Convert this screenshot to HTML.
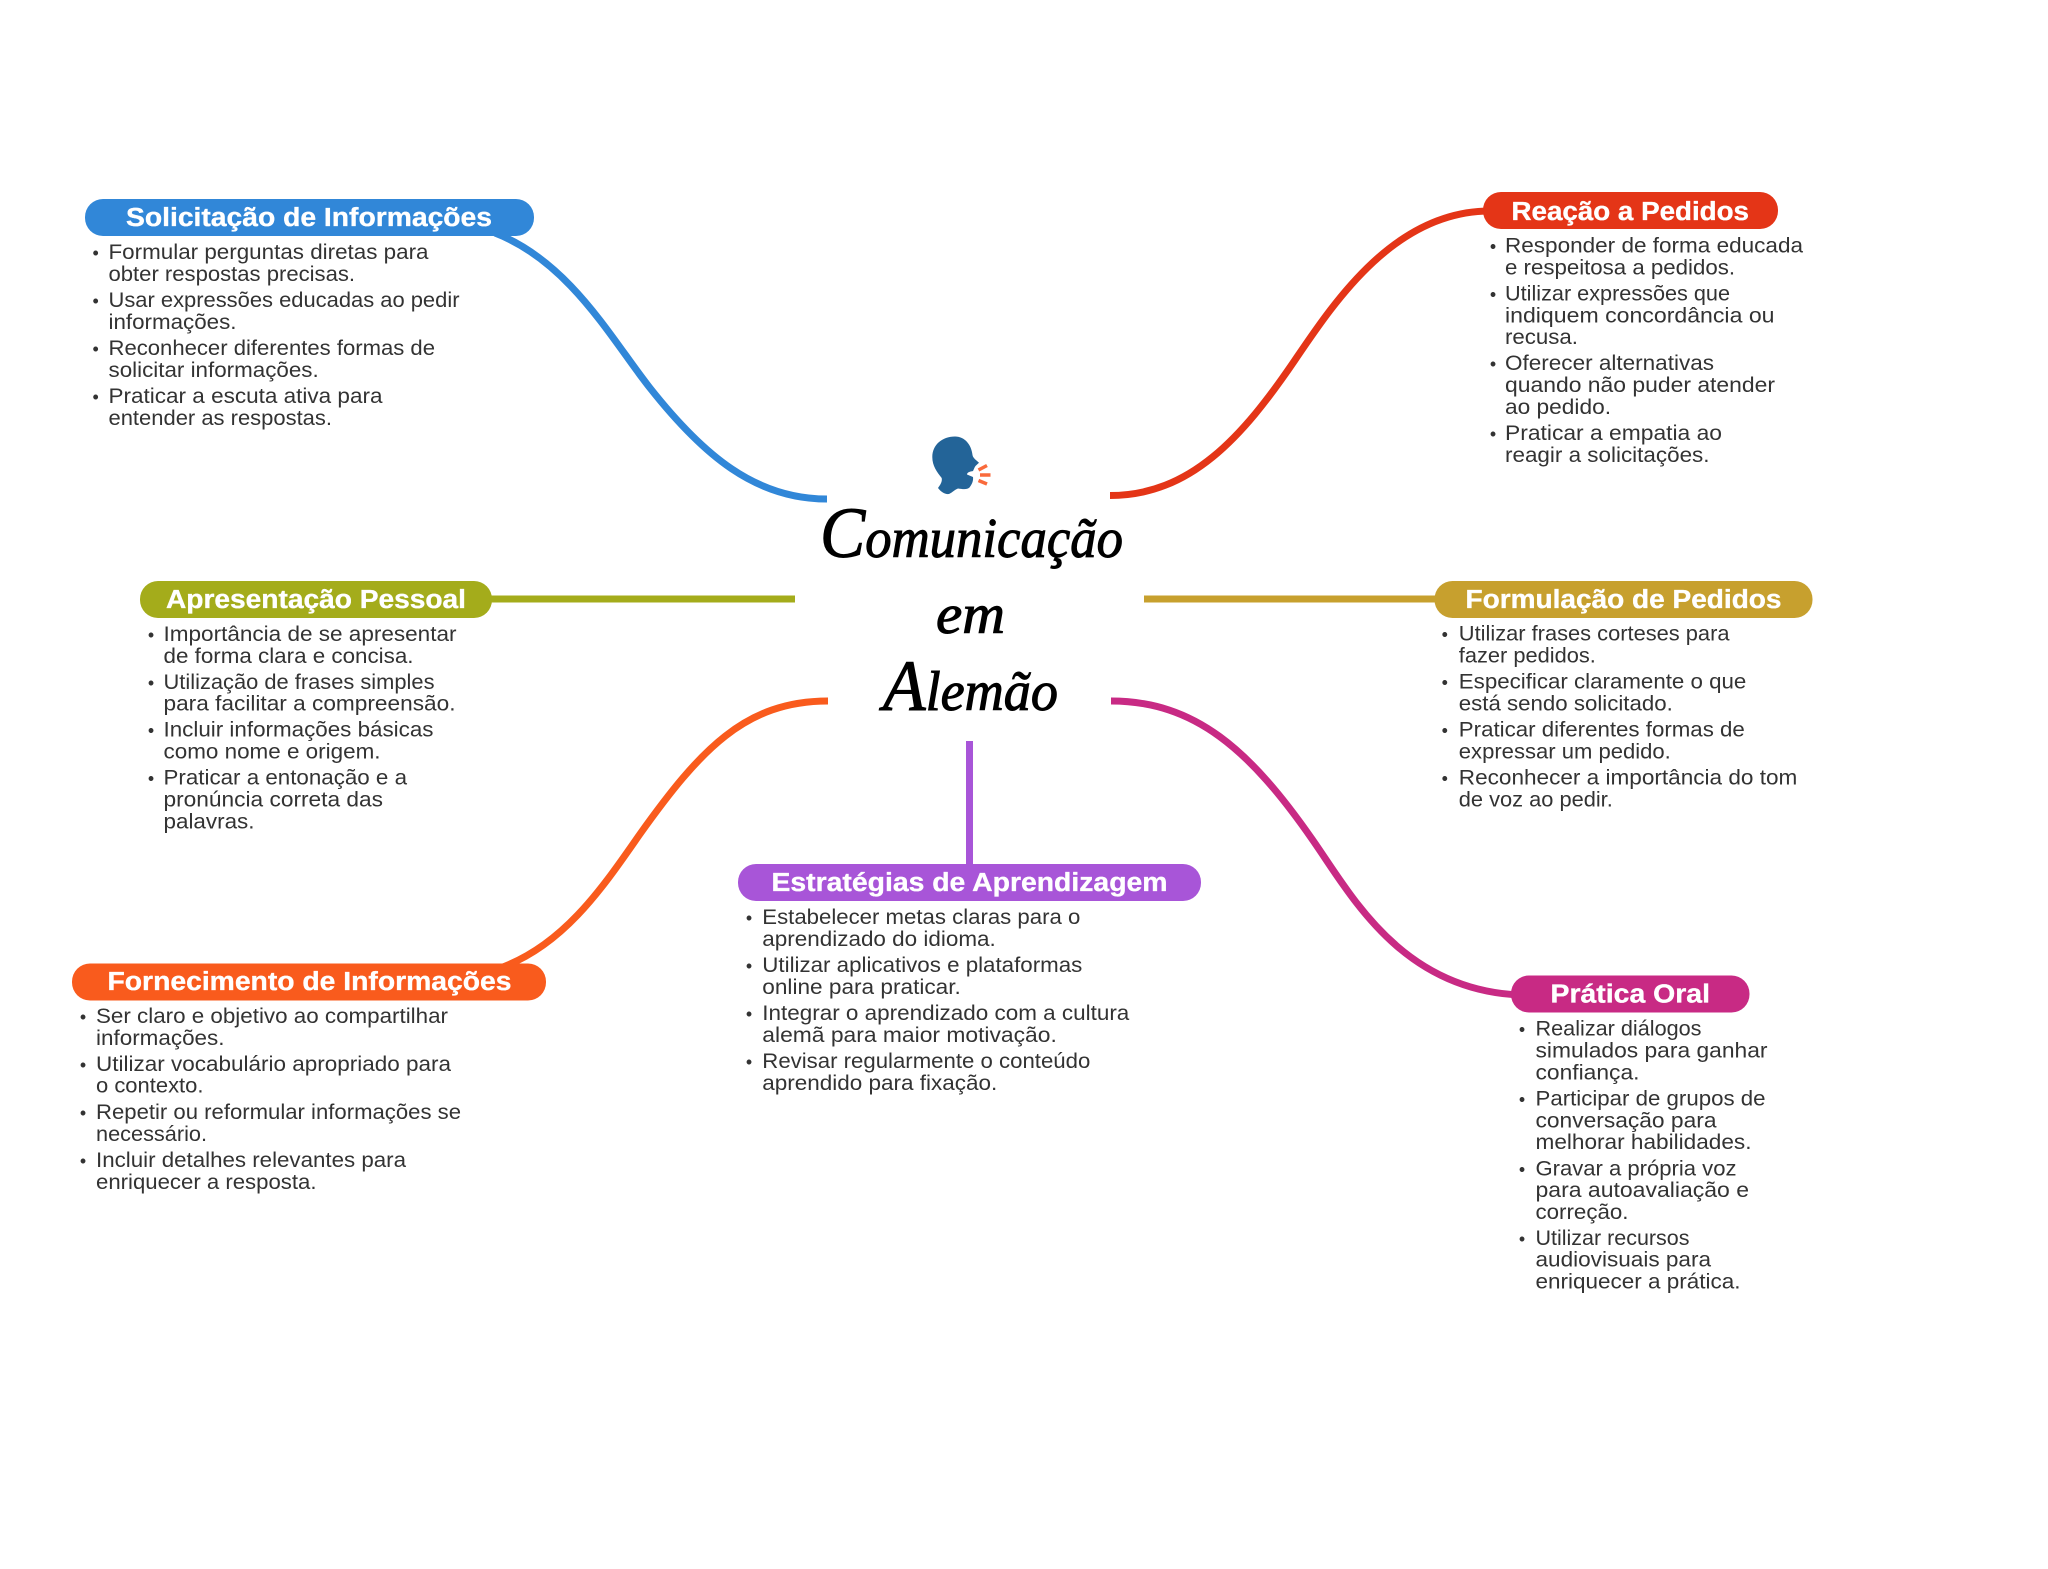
<!DOCTYPE html>
<html lang="pt"><head><meta charset="utf-8"><title>Comunicação em Alemão</title>
<style>
html,body{margin:0;padding:0;background:#fff;width:2048px;height:1569px;overflow:hidden}
svg{display:block}
.b{font:500 20.8px "Liberation Sans",sans-serif;fill:#333}
.d{font:18px "Liberation Sans",sans-serif;fill:#333;text-anchor:middle}
.h{font:700 25.5px "Liberation Sans",sans-serif;fill:#fff;stroke:#fff;stroke-width:.35}
.t{font:italic 400 56px "Liberation Serif",serif;fill:#000;stroke:#000;stroke-width:1}
.t tspan.k{font-size:72px}
path.c{fill:none;stroke-width:7}
</style></head><body>
<svg xmlns="http://www.w3.org/2000/svg" width="2048" height="1569" viewBox="0 0 2048 1569">
<rect width="2048" height="1569" fill="#fff"/>
<path class="c" stroke="#3187D8" d="M827 499C755 499 703 455 650 388C612 340 570 262 495 233"/>
<path class="c" stroke="#E43517" d="M1110 495.500C1190 495.500 1242 438 1295 360C1335 301 1395 211 1490 211"/>
<path class="c" stroke="#A4AC1B" d="M480 599H795"/>
<path class="c" stroke="#C7A02E" d="M1144 599H1450"/>
<path class="c" stroke="#F95B1D" d="M828 701C745 701 700 750 640 834C605 884 565 945 500 968"/>
<path class="c" stroke="#C82A84" d="M1111 701C1195 701 1250 750 1312 839C1350 893 1400 990 1520 995"/>
<path class="c" stroke="#A855D8" d="M969.500 741V870"/>

<rect x="85" y="199" width="449" height="37" rx="18" fill="#3187D8"/>
<text class="h" x="126" y="226" textLength="366" lengthAdjust="spacingAndGlyphs">Solicitação de Informações</text>
<rect x="1483" y="192" width="295" height="37" rx="18" fill="#E43517"/>
<text class="h" x="1511.500" y="220" textLength="237.500" lengthAdjust="spacingAndGlyphs">Reação a Pedidos</text>
<rect x="140" y="581" width="352" height="37" rx="18" fill="#A4AC1B"/>
<text class="h" x="166" y="608" textLength="300" lengthAdjust="spacingAndGlyphs">Apresentação Pessoal</text>
<rect x="1434.500" y="581" width="378" height="37" rx="18" fill="#C7A02E"/>
<text class="h" x="1465.500" y="608" textLength="316" lengthAdjust="spacingAndGlyphs">Formulação de Pedidos</text>
<rect x="72" y="963.500" width="474" height="37" rx="18" fill="#F95B1D"/>
<text class="h" x="107.500" y="990" textLength="404" lengthAdjust="spacingAndGlyphs">Fornecimento de Informações</text>
<rect x="738" y="864" width="463" height="37" rx="18" fill="#A855D8"/>
<text class="h" x="771.500" y="891" textLength="396" lengthAdjust="spacingAndGlyphs">Estratégias de Aprendizagem</text>
<rect x="1511" y="975.500" width="238.500" height="37" rx="18" fill="#C82A84"/>
<text class="h" x="1550.500" y="1002.500" textLength="159.500" lengthAdjust="spacingAndGlyphs">Prática Oral</text>

<text class="d" x="95.700" y="259">•</text>
<text class="b" x="108.500" y="259" textLength="320" lengthAdjust="spacingAndGlyphs">Formular perguntas diretas para</text>
<text class="b" x="108.500" y="281" textLength="246.500" lengthAdjust="spacingAndGlyphs">obter respostas precisas.</text>
<text class="d" x="95.700" y="307">•</text>
<text class="b" x="108.500" y="307" textLength="351" lengthAdjust="spacingAndGlyphs">Usar expressões educadas ao pedir</text>
<text class="b" x="108.500" y="329" textLength="128" lengthAdjust="spacingAndGlyphs">informações.</text>
<text class="d" x="95.700" y="355">•</text>
<text class="b" x="108.500" y="355" textLength="326.500" lengthAdjust="spacingAndGlyphs">Reconhecer diferentes formas de</text>
<text class="b" x="108.500" y="377" textLength="210.200" lengthAdjust="spacingAndGlyphs">solicitar informações.</text>
<text class="d" x="95.700" y="403">•</text>
<text class="b" x="108.500" y="403" textLength="274" lengthAdjust="spacingAndGlyphs">Praticar a escuta ativa para</text>
<text class="b" x="108.500" y="425" textLength="223.500" lengthAdjust="spacingAndGlyphs">entender as respostas.</text>

<g transform="translate(-2 0)">
<text class="d" x="1495" y="252.500">•</text>
<text class="b" x="1507" y="252.500" textLength="298" lengthAdjust="spacingAndGlyphs">Responder de forma educada</text>
<text class="b" x="1507" y="274.500" textLength="230" lengthAdjust="spacingAndGlyphs">e respeitosa a pedidos.</text>
<text class="d" x="1495" y="300.500">•</text>
<text class="b" x="1507" y="300.500" textLength="225" lengthAdjust="spacingAndGlyphs">Utilizar expressões que</text>
<text class="b" x="1507" y="322.500" textLength="269.500" lengthAdjust="spacingAndGlyphs">indiquem concordância ou</text>
<text class="b" x="1507" y="344" textLength="73" lengthAdjust="spacingAndGlyphs">recusa.</text>
<text class="d" x="1495" y="370">•</text>
<text class="b" x="1507" y="370" textLength="209" lengthAdjust="spacingAndGlyphs">Oferecer alternativas</text>
<text class="b" x="1507" y="392" textLength="270" lengthAdjust="spacingAndGlyphs">quando não puder atender</text>
<text class="b" x="1507" y="414" textLength="106" lengthAdjust="spacingAndGlyphs">ao pedido.</text>
<text class="d" x="1495" y="440">•</text>
<text class="b" x="1507" y="440" textLength="217" lengthAdjust="spacingAndGlyphs">Praticar a empatia ao</text>
<text class="b" x="1507" y="462" textLength="204.500" lengthAdjust="spacingAndGlyphs">reagir a solicitações.</text>
</g>

<text class="d" x="151" y="641">•</text>
<text class="b" x="163.500" y="641" textLength="293" lengthAdjust="spacingAndGlyphs">Importância de se apresentar</text>
<text class="b" x="163.500" y="663" textLength="250" lengthAdjust="spacingAndGlyphs">de forma clara e concisa.</text>
<text class="d" x="151" y="689">•</text>
<text class="b" x="163.500" y="689" textLength="271" lengthAdjust="spacingAndGlyphs">Utilização de frases simples</text>
<text class="b" x="163.500" y="710.500" textLength="292" lengthAdjust="spacingAndGlyphs">para facilitar a compreensão.</text>
<text class="d" x="151" y="736.500">•</text>
<text class="b" x="163.500" y="736.500" textLength="270" lengthAdjust="spacingAndGlyphs">Incluir informações básicas</text>
<text class="b" x="163.500" y="758.500" textLength="217" lengthAdjust="spacingAndGlyphs">como nome e origem.</text>
<text class="d" x="151" y="784.500">•</text>
<text class="b" x="163.500" y="784.500" textLength="243.500" lengthAdjust="spacingAndGlyphs">Praticar a entonação e a</text>
<text class="b" x="163.500" y="806.500" textLength="219.500" lengthAdjust="spacingAndGlyphs">pronúncia correta das</text>
<text class="b" x="163.500" y="828.500" textLength="91" lengthAdjust="spacingAndGlyphs">palavras.</text>

<text class="d" x="83" y="1023">•</text>
<text class="b" x="96" y="1023" textLength="352" lengthAdjust="spacingAndGlyphs">Ser claro e objetivo ao compartilhar</text>
<text class="b" x="96" y="1045" textLength="128.500" lengthAdjust="spacingAndGlyphs">informações.</text>
<text class="d" x="83" y="1071">•</text>
<text class="b" x="96" y="1071" textLength="355" lengthAdjust="spacingAndGlyphs">Utilizar vocabulário apropriado para</text>
<text class="b" x="96" y="1092.500" textLength="107.500" lengthAdjust="spacingAndGlyphs">o contexto.</text>
<text class="d" x="83" y="1119">•</text>
<text class="b" x="96" y="1119" textLength="365" lengthAdjust="spacingAndGlyphs">Repetir ou reformular informações se</text>
<text class="b" x="96" y="1141" textLength="111" lengthAdjust="spacingAndGlyphs">necessário.</text>
<text class="d" x="83" y="1167">•</text>
<text class="b" x="96" y="1167" textLength="310" lengthAdjust="spacingAndGlyphs">Incluir detalhes relevantes para</text>
<text class="b" x="96" y="1189" textLength="220.500" lengthAdjust="spacingAndGlyphs">enriquecer a resposta.</text>

<text class="d" x="749" y="924">•</text>
<text class="b" x="762.300" y="924" textLength="318" lengthAdjust="spacingAndGlyphs">Estabelecer metas claras para o</text>
<text class="b" x="762.300" y="946" textLength="233.500" lengthAdjust="spacingAndGlyphs">aprendizado do idioma.</text>
<text class="d" x="749" y="972">•</text>
<text class="b" x="762.300" y="972" textLength="320" lengthAdjust="spacingAndGlyphs">Utilizar aplicativos e plataformas</text>
<text class="b" x="762.300" y="994" textLength="198.500" lengthAdjust="spacingAndGlyphs">online para praticar.</text>
<text class="d" x="749" y="1020">•</text>
<text class="b" x="762.300" y="1020" textLength="367" lengthAdjust="spacingAndGlyphs">Integrar o aprendizado com a cultura</text>
<text class="b" x="762.300" y="1042" textLength="294.500" lengthAdjust="spacingAndGlyphs">alemã para maior motivação.</text>
<text class="d" x="749" y="1068">•</text>
<text class="b" x="762.300" y="1068" textLength="328" lengthAdjust="spacingAndGlyphs">Revisar regularmente o conteúdo</text>
<text class="b" x="762.300" y="1090" textLength="235" lengthAdjust="spacingAndGlyphs">aprendido para fixação.</text>

<g transform="translate(-2.200 0.500)">
<text class="d" x="1447" y="640">•</text>
<text class="b" x="1461" y="640" textLength="270.700" lengthAdjust="spacingAndGlyphs">Utilizar frases corteses para</text>
<text class="b" x="1461" y="662" textLength="137" lengthAdjust="spacingAndGlyphs">fazer pedidos.</text>
<text class="d" x="1447" y="688">•</text>
<text class="b" x="1461" y="688" textLength="287.500" lengthAdjust="spacingAndGlyphs">Especificar claramente o que</text>
<text class="b" x="1461" y="710" textLength="214" lengthAdjust="spacingAndGlyphs">está sendo solicitado.</text>
<text class="d" x="1447" y="736">•</text>
<text class="b" x="1461" y="736" textLength="286" lengthAdjust="spacingAndGlyphs">Praticar diferentes formas de</text>
<text class="b" x="1461" y="758" textLength="212" lengthAdjust="spacingAndGlyphs">expressar um pedido.</text>
<text class="d" x="1447" y="784">•</text>
<text class="b" x="1461" y="784" textLength="338.500" lengthAdjust="spacingAndGlyphs">Reconhecer a importância do tom</text>
<text class="b" x="1461" y="806" textLength="154" lengthAdjust="spacingAndGlyphs">de voz ao pedir.</text>
</g>

<g transform="translate(-2.500 0.500)">
<text class="d" x="1524.500" y="1035">•</text>
<text class="b" x="1538" y="1035" textLength="166" lengthAdjust="spacingAndGlyphs">Realizar diálogos</text>
<text class="b" x="1538" y="1057" textLength="232" lengthAdjust="spacingAndGlyphs">simulados para ganhar</text>
<text class="b" x="1538" y="1079" textLength="104" lengthAdjust="spacingAndGlyphs">confiança.</text>
<text class="d" x="1524.500" y="1105">•</text>
<text class="b" x="1538" y="1105" textLength="230" lengthAdjust="spacingAndGlyphs">Participar de grupos de</text>
<text class="b" x="1538" y="1127" textLength="181" lengthAdjust="spacingAndGlyphs">conversação para</text>
<text class="b" x="1538" y="1148.500" textLength="216" lengthAdjust="spacingAndGlyphs">melhorar habilidades.</text>
<text class="d" x="1524.500" y="1175">•</text>
<text class="b" x="1538" y="1175" textLength="201" lengthAdjust="spacingAndGlyphs">Gravar a própria voz</text>
<text class="b" x="1538" y="1196.500" textLength="213.500" lengthAdjust="spacingAndGlyphs">para autoavaliação e</text>
<text class="b" x="1538" y="1218.500" textLength="93" lengthAdjust="spacingAndGlyphs">correção.</text>
<text class="d" x="1524.500" y="1244.500">•</text>
<text class="b" x="1538" y="1244.500" textLength="154" lengthAdjust="spacingAndGlyphs">Utilizar recursos</text>
<text class="b" x="1538" y="1266" textLength="175.500" lengthAdjust="spacingAndGlyphs">audiovisuais para</text>
<text class="b" x="1538" y="1288" textLength="205" lengthAdjust="spacingAndGlyphs">enriquecer a prática.</text>
</g>

<path d="M955 436.500C942 436.500 932.300 445 932.300 457C932.300 466 937 472 941.700 478C942.500 482 940 485 938 488C941 492 945 494.500 949 494C953 492 955 489.500 958 488.500C962 489 967 490 969.500 487.500C972 484 973.500 481 973 477L967 474.500C967 472 971 471.500 973 471C974.500 468 974.500 467 976 465.500L979 462.700C976 460 973 458 972.500 455C971.500 445 965 436.500 955 436.500Z" fill="#236498"/>
<path d="M978.500 470L987 465.500M980 475H990.500M978.500 480.500L987 484" fill="none" stroke="#F96A3C" stroke-width="3.500"/>

<text class="t" x="820" y="557" textLength="303" lengthAdjust="spacingAndGlyphs"><tspan class="k">C</tspan>omunicação</text>
<text class="t" x="936" y="633" textLength="69" lengthAdjust="spacingAndGlyphs">em</text>
<text class="t" x="883" y="710" textLength="175" lengthAdjust="spacingAndGlyphs"><tspan class="k">A</tspan>lemão</text>
</svg>
</body></html>
